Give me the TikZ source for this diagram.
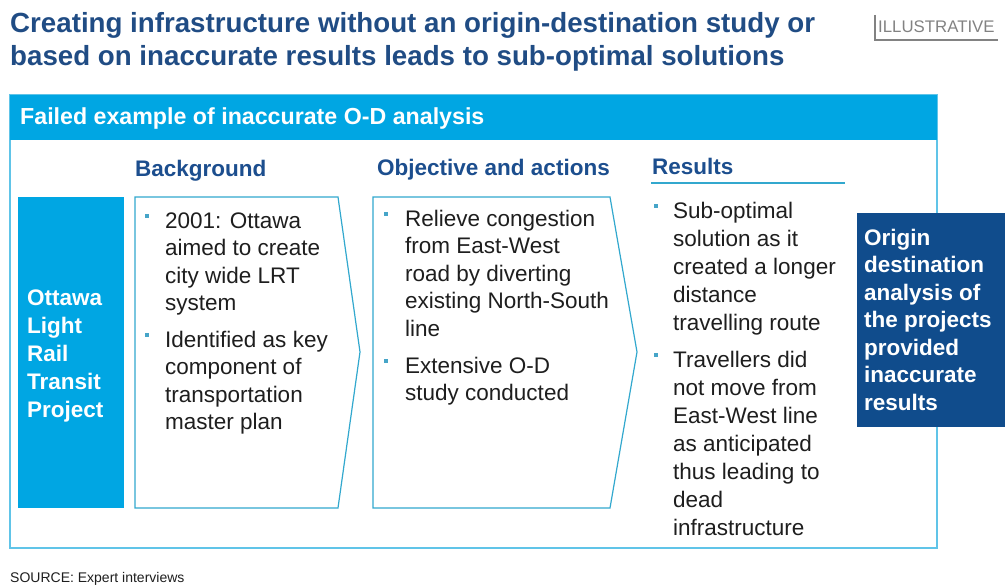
\documentclass[tikz,border=0pt]{standalone}
\usepackage{fontspec}
\setmainfont{Liberation Sans}
\definecolor{cyanbar}{RGB}{0,166,227}
\definecolor{framecyan}{RGB}{96,196,232}
\definecolor{chevline}{RGB}{50,168,206}
\definecolor{navybox}{RGB}{16,76,140}
\definecolor{headblue}{RGB}{28,78,142}
\definecolor{titleblue}{RGB}{32,76,132}
\definecolor{bodytext}{RGB}{30,30,30}
\definecolor{bulletc}{RGB}{70,165,200}
\definecolor{tagGray}{RGB}{130,130,130}
\tikzset{
  body/.style={inner sep=0pt, anchor=north west, align=left, text=bodytext,
    font=\fontsize{22.5}{27.5}\selectfont},
  bodyr/.style={body, font=\fontsize{22.5}{28}\selectfont},
  whitebold/.style={inner sep=0pt, anchor=north west, align=left, text=white,
    font=\fontsize{22.5}{28}\selectfont\bfseries},
  colhead/.style={inner sep=0pt, anchor=base west, text=headblue,
    font=\fontsize{22.5}{27.5}\selectfont\bfseries},
  titletext/.style={inner sep=0pt, anchor=base west, text=titleblue,
    font=\fontsize{27.7}{33}\selectfont\bfseries},
  bulletsq/.style={fill=bulletc, minimum size=4.8pt, inner sep=0pt},
  chevron/.style={draw=chevline, line width=1.2pt, fill=white, line join=miter},
}
\begin{document}
\begin{tikzpicture}[x=1pt,y=-1pt]
\useasboundingbox (0,0) rectangle (1005,585);

% Title
\node[titletext] (title1) at (10,33) {Creating infrastructure without an origin-destination study or};
\node[titletext] (title2) at (10,66) {based on inaccurate results leads to sub-optimal solutions};

% Illustrative tag
\node[inner sep=0pt, anchor=base west, text=tagGray, font=\fontsize{16.8}{18}\selectfont] (tag) at (878,33) {ILLUSTRATIVE};
\draw[tagGray, line width=1.3pt] (875,15) -- (875,40) -- (998,40);

% Outer frame with header bar
\draw[framecyan, line width=1.8pt, fill=white] (10,95) rectangle (937,548);
\fill[cyanbar] (10,95) rectangle (937,140);
\node[inner sep=0pt, anchor=base west, text=white, font=\fontsize{23.2}{27.5}\selectfont\bfseries] (header) at (20,125) {Failed example of inaccurate O-D analysis};

% Project box
\fill[cyanbar] (18,197) rectangle (124,508);
\node[whitebold] (project) at (27,285.4) {\strut Ottawa\\Light\\Rail\\Transit\\Project};

% Column headings
\node[colhead] (hback) at (135,177) {Background};
\node[colhead] (hobj) at (377,176) {Objective and actions};
\node[colhead] (hres) at (652,175) {Results};
\draw[chevline, line width=1.5pt] (651,183) -- (845,183);

% Chevrons
\draw[chevron] (135,197) -- (338,197) -- (360,352) -- (338,508) -- (135,508) -- cycle;
\draw[chevron] (373,197) -- (610,197) -- (637,352) -- (610,508) -- (373,508) -- cycle;

% Background bullets
\node[body] (b1) at (165,208.75) {\strut 2001: Ottawa\\aimed to create\\city wide LRT\\system};
\node[bulletsq] (b1m) at (147,216) {};
\node[body] (b2) at (165,327.75) {\strut Identified as key\\component of\\transportation\\master plan};
\node[bulletsq] (b2m) at (147,335) {};

% Objective bullets
\node[body] (o1) at (405,206.75) {\strut Relieve congestion\\from East-West\\road by diverting\\existing North-South\\line};
\node[bulletsq] (o1m) at (386,214) {};
\node[body] (o2) at (405,353.75) {\strut Extensive O-D\\study conducted};
\node[bulletsq] (o2m) at (386,361) {};

% Results bullets
\node[bodyr] (r1) at (673,198.4) {\strut Sub-optimal\\solution as it\\created a longer\\distance\\travelling route};
\node[bulletsq] (r1m) at (656,206) {};
\node[bodyr] (r2) at (673,347.4) {\strut Travellers did\\not move from\\East-West line\\as anticipated\\thus leading to\\dead\\infrastructure};
\node[bulletsq] (r2m) at (656,355) {};

% Conclusion box
\fill[navybox] (857,213) rectangle (1005,427);
\node[whitebold, font=\fontsize{22.5}{27.5}\selectfont\bfseries] (concl) at (864,225.75) {\strut Origin\\destination\\analysis of\\the projects\\provided\\inaccurate\\results};

% Source
\node[inner sep=0pt, anchor=base west, text=bodytext, font=\fontsize{14}{16}\selectfont] (source) at (10,582) {SOURCE: Expert interviews};
\end{tikzpicture}
\end{document}
